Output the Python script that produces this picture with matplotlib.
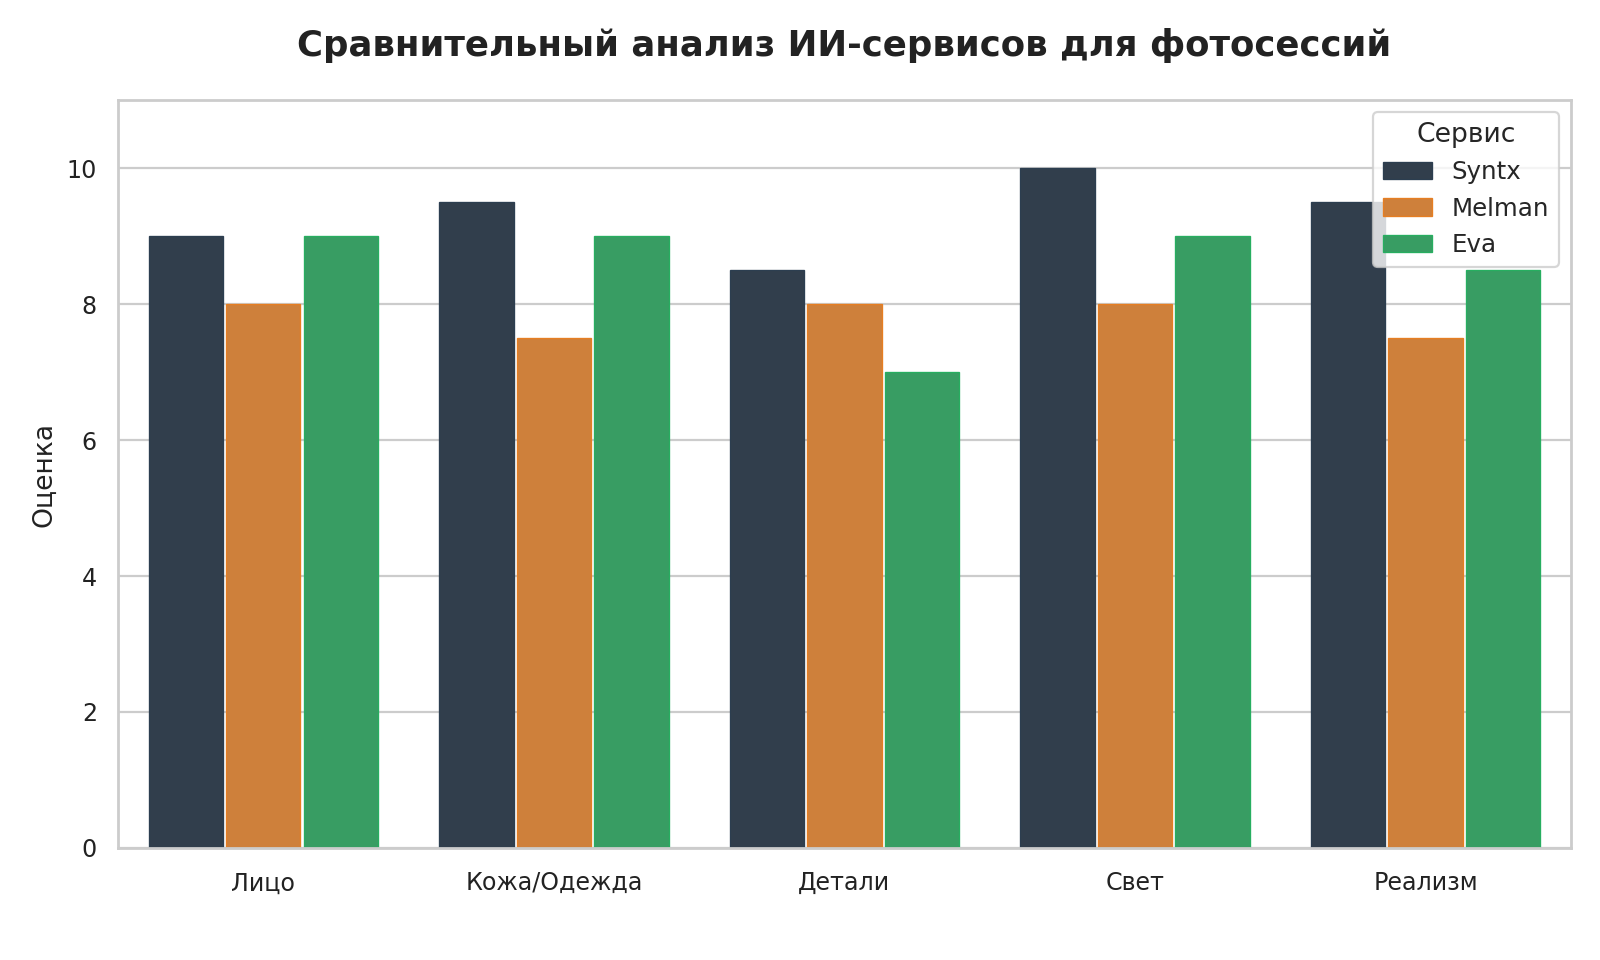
import numpy as np
import matplotlib
matplotlib.use("Agg")
import matplotlib.pyplot as plt
import seaborn as sns

categories = ["Лицо", "Кожа/Одежда", "Детали", "Свет", "Реализм"]
services = ["Syntx", "Melman", "Eva"]
syntx = [9, 9.5, 8.5, 10, 9.5]
melman = [8, 7.5, 8, 8, 7.5]
eva = [9, 9, 7, 9, 8.5]
colors = ["#2c3e50", "#e67e22", "#27ae60"]

sns.set_theme(style="whitegrid")
plt.rcParams["font.family"] = ["DejaVu Sans"]

fig = plt.figure(figsize=(10, 6), dpi=160)
ax = fig.add_axes([0.07375, 0.1167, 0.908, 0.779])

x = np.arange(len(categories))
step = 0.8 / 3
for i, (name, vals) in enumerate(zip(services, [syntx, melman, eva])):
	fill = sns.desaturate(colors[i], 0.75)
	ax.bar(x + (i - 1) * step, vals, width=step * 0.96, color=fill,
		edgecolor=colors[i], linewidth=0.6, label=name, zorder=2)

ax.set_xlim(-0.5, 4.5)
ax.set_ylim(0, 11)
ax.set_yticks([0, 2, 4, 6, 8, 10])
ax.set_xticks(x)
ax.set_xticklabels(categories)
ax.xaxis.grid(False)
ax.tick_params(axis="both", labelsize=10.7, colors="#222222")
ax.tick_params(axis="x", pad=4.5)
ax.tick_params(axis="y", pad=3.5)
ax.set_ylabel("Оценка", fontsize=12, color="#222222", labelpad=4)
ax.set_title("Сравнительный анализ ИИ-сервисов для фотосессий",
	fontsize=16, fontweight="bold", color="#222222", pad=20)

leg = ax.legend(title="Сервис", loc="upper right", fontsize=11, title_fontsize=12)

fig.savefig("out.png", dpi=160)
